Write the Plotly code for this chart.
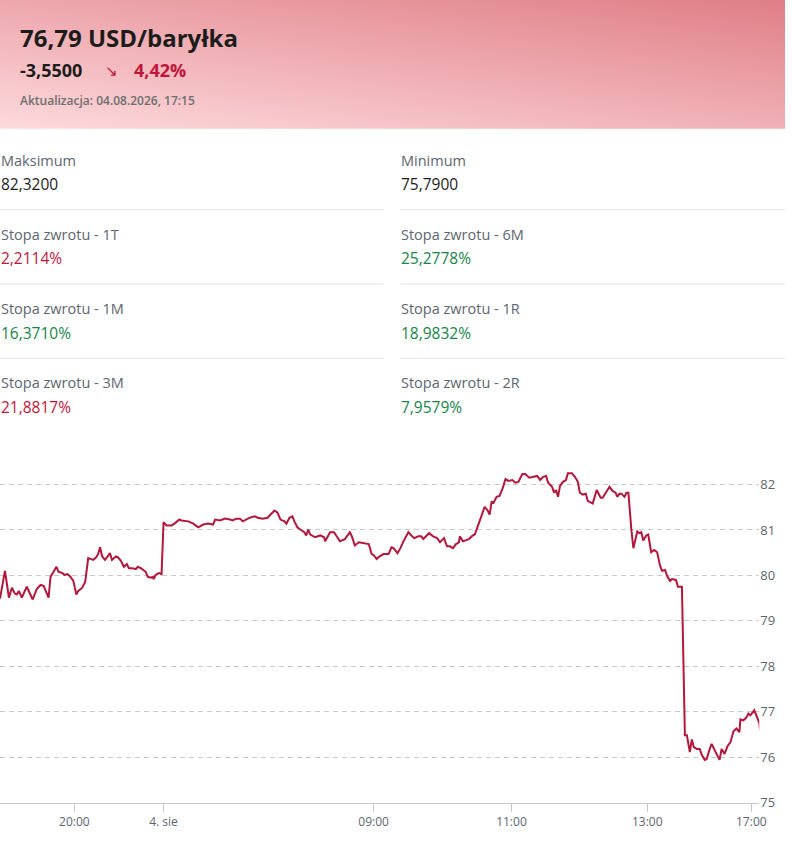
import plotly.graph_objects as go

W, H = 792, 865

# intraday price series (slot = position on the compressed session timeline)
slot = [0, 5, 9, 12, 15, 17, 19, 22, 27, 30, 33, 37, 41, 44, 47, 49, 51, 53, 57, 59,
        63, 65, 68, 71, 74, 77, 79, 83, 86, 89, 92, 94, 97, 99, 101, 103, 106, 108, 111, 113,
        117, 119, 122, 125, 128, 130, 133, 137, 139, 142, 144, 147, 149, 152, 154, 155, 157, 160, 163, 165,
        168, 173, 176, 181, 183, 187, 190, 195, 200, 205, 210, 215, 217, 222, 227, 232, 235, 238, 242, 245,
        248, 252, 257, 260, 265, 270, 273, 277, 280, 283, 287, 289, 292, 295, 297, 300, 303, 307, 309, 311,
        313, 318, 323, 327, 328, 333, 337, 340, 343, 348, 353, 355, 358, 362, 367, 372, 375, 377, 380, 383,
        387, 392, 395, 397, 401, 404, 407, 412, 415, 418, 422, 425, 427, 430, 433, 437, 441, 444, 448, 451,
        454, 457, 460, 463, 464, 467, 470, 473, 477, 479, 482, 485, 489, 492, 494, 496, 498, 501, 504, 507,
        510, 513, 517, 520, 523, 527, 530, 534, 538, 542, 545, 548, 551, 553, 557, 559, 561, 563, 565, 568,
        571, 573, 577, 580, 583, 585, 588, 591, 593, 597, 598, 602, 606, 608, 612, 615, 618, 621, 623, 625,
        627, 630, 632, 634, 637, 639, 643, 645, 647, 649, 652, 654, 657, 660, 663, 666, 668, 671, 673, 676,
        678, 682, 684, 688, 691, 693, 696, 698, 700, 703, 706, 708, 711, 713, 716, 718, 722, 726, 728, 731,
        734, 737, 740, 743, 746, 747, 750, 753, 755, 757, 761, 763, 766, 767]
price = [79.49, 80.10, 79.51, 79.73, 79.60, 79.58, 79.66, 79.51, 79.75, 79.60, 79.47, 79.70, 79.79, 79.77, 79.60, 79.51, 79.97, 80.05, 80.19, 80.08,
         80.05, 80.01, 80.03, 79.97, 79.88, 79.58, 79.66, 79.73, 79.86, 80.38, 80.36, 80.34, 80.40, 80.47, 80.62, 80.42, 80.34, 80.40, 80.49, 80.34,
         80.42, 80.40, 80.32, 80.19, 80.25, 80.16, 80.16, 80.14, 80.19, 80.16, 80.12, 80.08, 79.97, 79.95, 79.97, 79.92, 80.01, 80.05, 80.03, 81.17,
         81.10, 81.10, 81.14, 81.23, 81.21, 81.19, 81.19, 81.14, 81.06, 81.12, 81.14, 81.12, 81.23, 81.21, 81.25, 81.23, 81.21, 81.25, 81.25, 81.19,
         81.23, 81.27, 81.30, 81.27, 81.25, 81.27, 81.34, 81.43, 81.38, 81.23, 81.19, 81.14, 81.27, 81.30, 81.19, 81.06, 81.01, 80.95, 80.88, 81.01,
         80.90, 80.84, 80.88, 80.84, 80.75, 80.95, 80.95, 80.86, 80.75, 80.80, 80.95, 80.86, 80.66, 80.73, 80.71, 80.69, 80.47, 80.45, 80.36, 80.42,
         80.47, 80.47, 80.62, 80.60, 80.49, 80.60, 80.75, 80.95, 80.88, 80.82, 80.86, 80.86, 80.80, 80.86, 80.93, 80.86, 80.82, 80.73, 80.82, 80.64,
         80.64, 80.60, 80.69, 80.73, 80.86, 80.75, 80.77, 80.80, 80.88, 80.90, 81.08, 81.27, 81.51, 81.43, 81.34, 81.62, 81.60, 81.73, 81.75, 81.91,
         82.12, 82.08, 82.10, 82.04, 82.06, 82.23, 82.23, 82.15, 82.17, 82.19, 82.10, 82.17, 82.19, 82.04, 81.95, 81.82, 81.88, 81.73, 81.97, 82.06,
         82.10, 82.25, 82.25, 82.17, 82.06, 81.82, 81.78, 81.80, 81.64, 81.60, 81.58, 81.88, 81.71, 81.71, 81.84, 81.95, 81.86, 81.82, 81.73, 81.80,
         81.80, 81.73, 81.82, 81.82, 81.01, 80.60, 80.97, 80.93, 80.95, 80.77, 80.88, 80.90, 80.51, 80.56, 80.51, 80.21, 80.10, 80.12, 79.99, 79.88,
         79.92, 79.90, 79.75, 79.75, 76.48, 76.48, 76.11, 76.39, 76.22, 76.18, 76.18, 76.05, 75.94, 75.96, 76.18, 76.29, 76.11, 75.94, 76.18, 76.07,
         76.24, 76.33, 76.57, 76.63, 76.55, 76.83, 76.81, 76.87, 76.96, 76.92, 77.03, 76.92, 76.76, 76.59]

tick_slots = [75, 165, 377, 516, 653, 758]
tick_labels = ['20:00', '4. sie', '09:00', '11:00', '13:00', '17:00']
price_ticks = [75, 76, 77, 78, 79, 80, 81, 82]

stat_labels = ['Maksimum', 'Minimum',
               'Stopa zwrotu - 1T', 'Stopa zwrotu - 6M',
               'Stopa zwrotu - 1M', 'Stopa zwrotu - 1R',
               'Stopa zwrotu - 3M', 'Stopa zwrotu - 2R']
stat_values = ['82,3200', '75,7900', '2,2114%', '25,2778%',
               '16,3710%', '18,9832%', '21,8817%', '7,9579%']
stat_colors = ['#1c1c1c', '#1c1c1c', '#c0163a', '#17854a',
               '#17854a', '#17854a', '#c0163a', '#17854a']

FONT = 'Open Sans'
RED = '#c0163a'
GREY = '#5d6570'


def px(x):
    return x / W


def py(y):
    return 1 - y / H


fig = go.Figure()

# pink gradient behind the header
fig.add_trace(go.Heatmap(
    z=[[0.0, 0.45], [0.55, 1.0]], x=[0, 1], y=[0, 1],
    zsmooth='best', showscale=False, hoverinfo='skip',
    colorscale=[[0, '#fddadd'], [1, '#e07e86']],
    xaxis='x2', yaxis='y2'))

fig.add_trace(go.Scatter(
    x=slot, y=price, mode='lines',
    line=dict(color='#b3173b', width=2),
    hoverinfo='skip', showlegend=False))

ann = []


def text(x, y, s, size, color, weight='normal'):
    ann.append(dict(x=px(x), y=py(y), xref='paper', yref='paper', text=s,
                    showarrow=False, xanchor='left', yanchor='middle',
                    font=dict(family=FONT, size=size, color=color, weight=weight)))


text(18, 38, '76,79 USD/baryłka', 24, '#1c1c1c', 'bold')
text(18, 71, '-3,5500', 18, '#1c1c1c', 'bold')
text(104, 71, '↘', 15, RED)
text(133, 71, '4,42%', 18, RED, 'bold')
text(18, 102, 'Aktualizacja: 04.08.2026, 17:15', 12, '#6e6e6e', 600)

shapes = []
for i, (lab, val, col) in enumerate(zip(stat_labels, stat_values, stat_colors)):
    row, colm = divmod(i, 2)
    x0 = 0 if colm == 0 else 404
    y0 = 162 + row * 75
    text(x0 - 1, y0, lab, 14.5, GREY)
    text(x0 - 1, y0 + 24, val, 15.5, col)
    if row < 3:
        yl = py(212 + row * 75)
        x1 = 387 if colm == 0 else W
        shapes.append(dict(type='line', xref='paper', yref='paper',
                           x0=px(x0), x1=px(x1), y0=yl, y1=yl,
                           line=dict(color='#e6e6e6', width=1)))

fig.update_layout(
    width=W, height=H, autosize=False,
    margin=dict(l=0, r=0, t=0, b=0),
    paper_bgcolor='white', plot_bgcolor='white',
    showlegend=False,
    annotations=ann, shapes=shapes,
    xaxis=dict(domain=[0, 766 / W], range=[0, 766],
               tickvals=tick_slots, ticktext=tick_labels,
               ticks='outside', ticklen=8, tickcolor='#c8c8c8',
               showline=True, linecolor='#c8c8c8', linewidth=1,
               showgrid=False, zeroline=False, fixedrange=True,
               tickfont=dict(family=FONT, size=12, color=GREY)),
    yaxis=dict(domain=[54 / H, 396 / H], range=[75, 82.45], side='right',
               tickvals=price_ticks, showgrid=True, gridcolor='#c9c9c9',
               griddash='5px,4px', zeroline=False, showline=False,
               ticks='', fixedrange=True,
               tickfont=dict(family=FONT, size=13, color=GREY)),
    xaxis2=dict(domain=[0, 1], range=[0, 1], visible=False, fixedrange=True),
    yaxis2=dict(domain=[py(130), 1], range=[0, 1], visible=False, fixedrange=True),
)

# no default body margin, so the figure sits flush in the window
fig.write_html('out.html', config={'displayModeBar': False},
               post_script="document.body.style.margin='0';document.body.style.overflow='hidden';")
